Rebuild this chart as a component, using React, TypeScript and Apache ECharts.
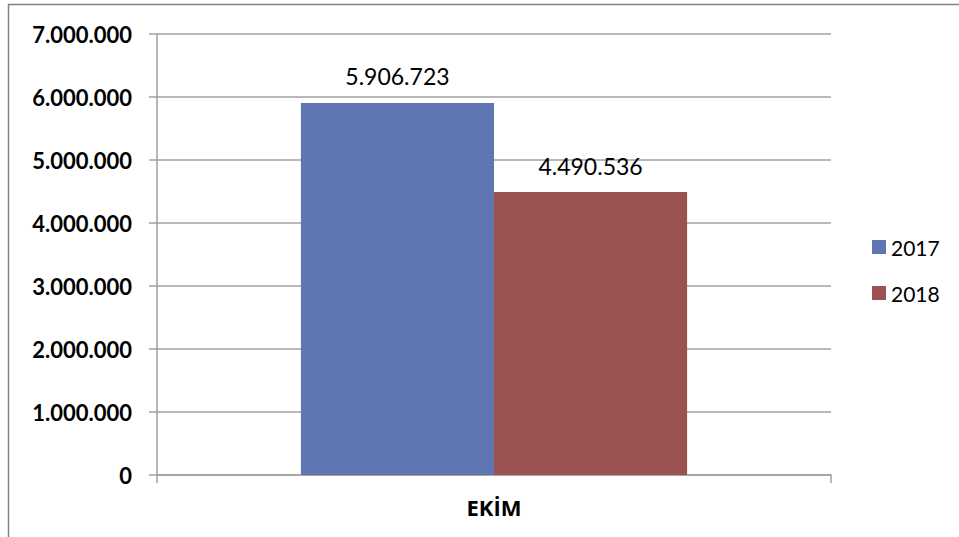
import React, { useEffect, useRef } from "react";
import * as echarts from "echarts";

const categories = ["EKİM"];
const seriesNames = ["2017", "2018"];
const values2017 = [5906723];
const values2018 = [4490536];
const yTicks = [0, 1000000, 2000000, 3000000, 4000000, 5000000, 6000000, 7000000];

const fmt = (v: number) => String(Math.round(v)).replace(/\B(?=(\d{3})+(?!\d))/g, ".");

export default function App() {
  const ref = useRef<HTMLDivElement>(null);
  useEffect(() => {
    if (!ref.current) return;
    const chart = echarts.init(ref.current, null, { renderer: "svg" });
    const gray = "#a0a0a0";
    const labelFont = { fontFamily: "Lato", fontSize: 23, color: "#000" };
    chart.setOption({
      animation: false,
      backgroundColor: "#fff",
      graphic: [
        { type: "line", shape: { x1: 8.5, y1: 4, x2: 8.5, y2: 537 }, style: { stroke: "#828282", lineWidth: 1.5 } },
        { type: "line", shape: { x1: 8, y1: 4.5, x2: 959, y2: 4.5 }, style: { stroke: "#828282", lineWidth: 1.5 } },
      ],
      grid: { left: 157, right: 128, top: 34, bottom: 62, containLabel: false },
      legend: {
        orient: "vertical",
        left: 867,
        top: 231,
        itemWidth: 14,
        itemHeight: 14,
        itemGap: 24,
        icon: "rect",
        textStyle: { fontFamily: "Lato", fontSize: 21, color: "#000", lineHeight: 22 },
        data: seriesNames,
      },
      xAxis: {
        type: "category",
        data: categories,
        axisLine: { show: true, lineStyle: { color: gray, width: 1.5 } },
        axisTick: { show: true, length: 8, lineStyle: { color: gray, width: 1.5 } },
        axisLabel: { margin: 21, fontFamily: "Open Sans", fontWeight: "bold", fontSize: 22, color: "#000" },
      },
      yAxis: {
        type: "value",
        min: yTicks[0],
        max: yTicks[yTicks.length - 1],
        interval: yTicks[1] - yTicks[0],
        axisLine: { show: true, lineStyle: { color: gray, width: 1.5 } },
        axisTick: { show: true, length: 8, lineStyle: { color: gray, width: 1.5 } },
        splitLine: { show: true, lineStyle: { color: gray, width: 1.5 } },
        axisLabel: { margin: 25, fontFamily: "Lato", fontWeight: "bold", fontSize: 22, color: "#000", formatter: (v: number) => fmt(v) },
      },
      series: [
        {
          name: seriesNames[0],
          type: "bar",
          data: values2017,
          itemStyle: { color: "#5F76B3" },
          barGap: "0%",
          barCategoryGap: "42.7%",
          label: { show: true, position: "top", distance: 15, ...labelFont, formatter: (p: any) => fmt(p.value) },
        },
        {
          name: seriesNames[1],
          type: "bar",
          data: values2018,
          itemStyle: { color: "#9C5251" },
          barGap: "0%",
          barCategoryGap: "42.7%",
          label: { show: true, position: "top", distance: 15, ...labelFont, formatter: (p: any) => fmt(p.value) },
        },
      ],
    });
    return () => chart.dispose();
  }, []);
  return <div ref={ref} style={{ position: "absolute", left: 0, top: 0, width: 959, height: 537 }} />;
}
